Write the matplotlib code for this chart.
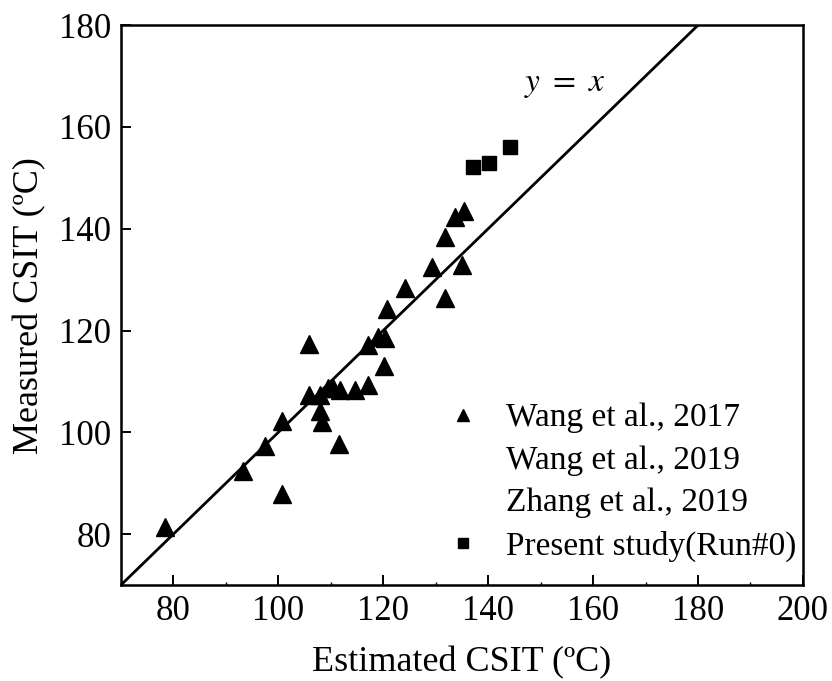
import matplotlib
matplotlib.use('Agg')
import matplotlib.pyplot as plt
from matplotlib.ticker import MultipleLocator

plt.rcParams['font.family'] = ['Liberation Serif', 'DejaVu Serif']
plt.rcParams['mathtext.fontset'] = 'stix'

# Wang et al., 2017 (estimated vs measured CSIT)
wang2017_est = [78.4, 93.2, 97.4, 100.7, 100.7, 105.9, 105.9, 107.9, 107.9, 108.3,
                109.5, 110.4, 111.7, 111.5, 114.6, 117.1, 117.1, 119.0, 120.3, 120.1,
                120.7, 124.1, 129.2, 131.7, 131.7, 133.6, 135.3, 135.0]
wang2017_meas = [81.3, 92.3, 97.4, 102.3, 87.9, 117.3, 107.4, 107.4, 104.1, 102.1,
                 108.7, 108.7, 108.3, 97.7, 108.3, 109.3, 117.2, 118.8, 118.6, 113.1,
                 124.3, 128.3, 132.4, 126.4, 138.4, 142.4, 143.4, 132.8]

# Present study (Run#0)
present_est = [137.2, 140.2, 144.1]
present_meas = [152.1, 153.0, 156.1]

line_x = [70, 200]

fig = plt.figure(figsize=(8.32, 6.81), dpi=100)
ax = fig.add_axes([0.1454, 0.141, 0.8196, 0.822])

ax.plot(line_x, line_x, color='black', lw=2.0, zorder=2)
ax.plot(wang2017_est, wang2017_meas, ls='none', marker='^', ms=12.5, color='black',
        label='Wang et al., 2017', zorder=3)
ax.plot([], [], ls='none', label='Wang et al., 2019')
ax.plot([], [], ls='none', label='Zhang et al., 2019')
ax.plot(present_est, present_meas, ls='none', marker='s', ms=10, color='black',
        label='Present study(Run#0)', zorder=3)

ax.text(154.5, 168.3, r'$y\ =\ x$', fontsize=24, ha='center', va='center')

ax.set_xlim(70, 200)
ax.set_ylim(70, 180)
ax.xaxis.set_major_locator(MultipleLocator(20))
ax.xaxis.set_minor_locator(MultipleLocator(10))
ax.yaxis.set_major_locator(MultipleLocator(20))
ax.tick_params(which='major', direction='in', length=7, width=1.4, labelsize=25, pad=7)
ax.tick_params(which='minor', direction='in', length=2, width=1.0)
for s in ax.spines.values():
    s.set_linewidth(1.8)

ax.set_xlabel('Estimated CSIT (ºC)', fontsize=26, labelpad=13)
ax.set_ylabel('Measured CSIT (ºC)', fontsize=26, labelpad=9)

ax.legend(loc='lower right', bbox_to_anchor=(1.0, 0.03), frameon=False, fontsize=24,
          markerscale=0.7, handlelength=1.0, handletextpad=0.8, labelspacing=0.36,
          borderpad=0.2, borderaxespad=0.0)

plt.savefig('out.png', dpi=100)
